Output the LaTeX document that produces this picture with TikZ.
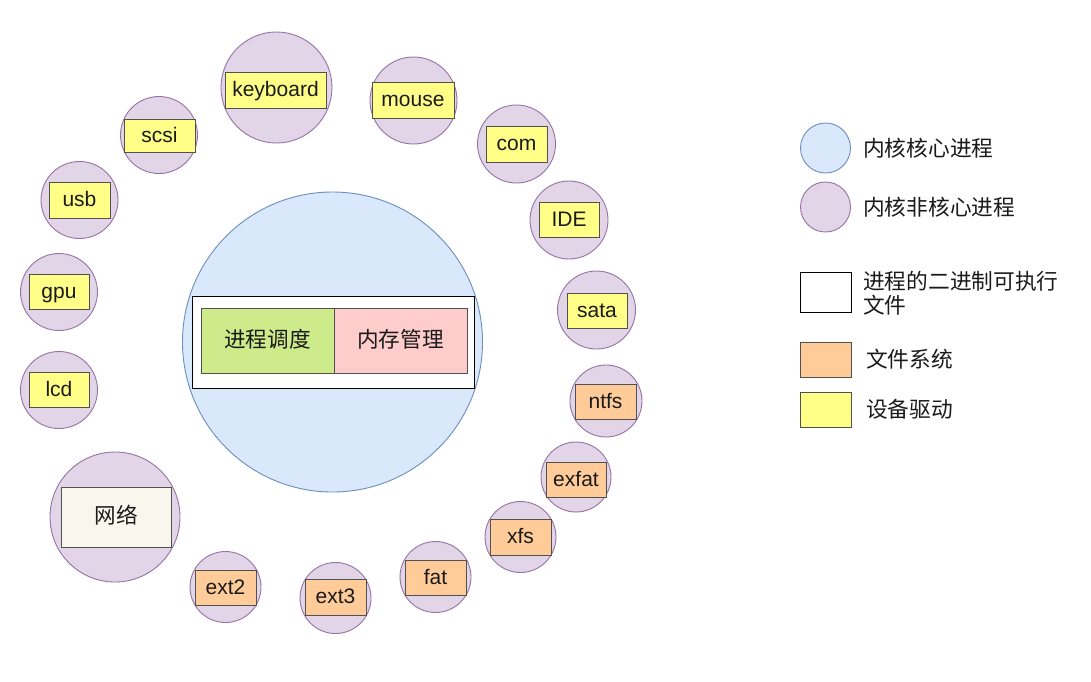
\documentclass[tikz,border=0pt]{standalone}
\usepackage{fontspec}
\setmainfont{Liberation Sans}
\newfontfamily\cjk{Noto Sans CJK SC}
\definecolor{coreFill}{HTML}{DAE8FC}
\definecolor{coreLine}{HTML}{6C8EBF}
\definecolor{modFill}{HTML}{E1D5E7}
\definecolor{modLine}{HTML}{9673A6}
\definecolor{drvFill}{HTML}{FFFF88}
\definecolor{fsFill}{HTML}{FFCC99}
\definecolor{boxLine}{HTML}{505050}
\definecolor{schedFill}{HTML}{CDEB8B}
\definecolor{memFill}{HTML}{FFCCCC}
\definecolor{netFill}{HTML}{F9F7ED}
\definecolor{txt}{HTML}{1A1A1A}
\tikzset{
  modc/.style={circle, draw=modLine, fill=modFill, line width=0.9pt, inner sep=0pt, minimum size=#1},
  boxbase/.style={rectangle, draw=boxLine, line width=1pt, inner sep=0pt, text=txt,
    font=\fontsize{21}{24}\selectfont, text height=16pt, text depth=3pt},
  cjkbox/.style={boxbase, font=\cjk\fontsize{21.6}{24}\selectfont},
  drv/.style={boxbase, fill=drvFill, minimum width=#1, minimum height=35pt},
  fsb/.style={boxbase, fill=fsFill, minimum width=#1, minimum height=35pt},
  legtxt/.style={anchor=west, inner sep=0pt, text=txt, align=left,
    font=\cjk\fontsize{21.7}{23.5}\selectfont},
}
\begin{document}
\begin{tikzpicture}[x=1pt,y=-1pt]
\useasboundingbox[fill=white] (0,0) rectangle (1091,681);

% core
\node[circle, draw=coreLine, fill=coreFill, line width=0.9pt, inner sep=0pt, minimum size=300pt] (core) at (332.5,342) {};
\node[rectangle, draw=black, fill=white, line width=1pt, minimum width=282pt, minimum height=92pt, inner sep=0pt] (exe) at (333,342) {};
\node[cjkbox, fill=schedFill, minimum width=133pt, minimum height=65pt] (sched) at (267.5,340.5) {进程调度};
\node[cjkbox, fill=memFill, minimum width=133pt, minimum height=65pt] (mem) at (400.5,340.5) {内存管理};

% module circles
\node[modc=111pt] (ckbd) at (276.5,87.5) {};
\node[modc=87pt] (cmouse) at (413.5,100.5) {};
\node[modc=78pt] (ccom) at (516.5,144) {};
\node[modc=78pt] (cide) at (569,220) {};
\node[modc=78pt] (csata) at (596.5,310) {};
\node[modc=72pt] (cntfs) at (606,401) {};
\node[modc=70pt] (cexfat) at (576,477) {};
\node[modc=71pt] (cxfs) at (520.5,537) {};
\node[modc=71pt] (cfat) at (435.5,577) {};
\node[modc=71pt] (cext3) at (335.5,598) {};
\node[modc=71pt] (cext2) at (225.5,587) {};
\node[modc=130pt] (cnet) at (115,517) {};
\node[modc=77pt] (clcd) at (59,390) {};
\node[modc=77pt] (cgpu) at (59,292) {};
\node[modc=77pt] (cusb) at (79.5,200) {};
\node[modc=77pt] (cscsi) at (159,135) {};

% boxes
\node[drv=101pt, minimum height=36pt] (kbd) at (275.5,90) {keyboard};
\node[drv=82pt, minimum height=36pt] (mouse) at (413,100) {mouse};
\node[drv=61pt, minimum height=36pt] (com) at (516.5,144) {com};
\node[drv=60pt] (ide) at (569,219.5) {IDE};
\node[drv=60pt] (sata) at (597,310.5) {sata};
\node[fsb=61pt] (ntfs) at (605.5,401.5) {ntfs};
\node[fsb=60pt] (exfat) at (576,479.5) {exfat};
\node[fsb=61pt, minimum height=36pt] (xfs) at (520.5,537) {xfs};
\node[fsb=61pt] (fat) at (435.5,577.5) {fat};
\node[fsb=61pt, minimum height=36pt] (ext3) at (335.5,597) {ext3};
\node[fsb=61pt] (ext2) at (225.5,587.5) {ext2};
\node[cjkbox, fill=netFill, minimum width=110pt, minimum height=60pt] (net) at (116,517) {网络};
\node[drv=60pt] (lcd) at (59,389.5) {lcd};
\node[drv=60pt] (gpu) at (59,291.5) {gpu};
\node[drv=61pt, minimum height=36pt] (usb) at (79.5,200) {usb};
\node[drv=71pt, minimum height=33pt] (scsi) at (159.5,135.5) {scsi};

% legend
\node[circle, draw=coreLine, fill=coreFill, line width=0.9pt, inner sep=0pt, minimum size=50pt] (lgcore) at (825.5,148) {};
\node[legtxt] (lgcoret) at (863,148) {内核核心进程};
\node[modc=50pt] (lgmod) at (825.5,207) {};
\node[legtxt] (lgmodt) at (863,207) {内核非核心进程};
\node[rectangle, draw=black, fill=white, line width=1pt, inner sep=0pt, minimum width=51pt, minimum height=40pt] (lgexe) at (825.5,292) {};
\node[legtxt] (lgexet) at (863,293) {进程的二进制可执行\\文件};
\node[boxbase, fill=fsFill, minimum width=51pt, minimum height=35pt] (lgfs) at (825.5,359.5) {};
\node[legtxt] (lgfst) at (866,359) {文件系统};
\node[boxbase, fill=drvFill, minimum width=51pt, minimum height=35pt] (lgdrv) at (825.5,409.5) {};
\node[legtxt] (lgdrvt) at (866,409) {设备驱动};
\end{tikzpicture}
\end{document}
